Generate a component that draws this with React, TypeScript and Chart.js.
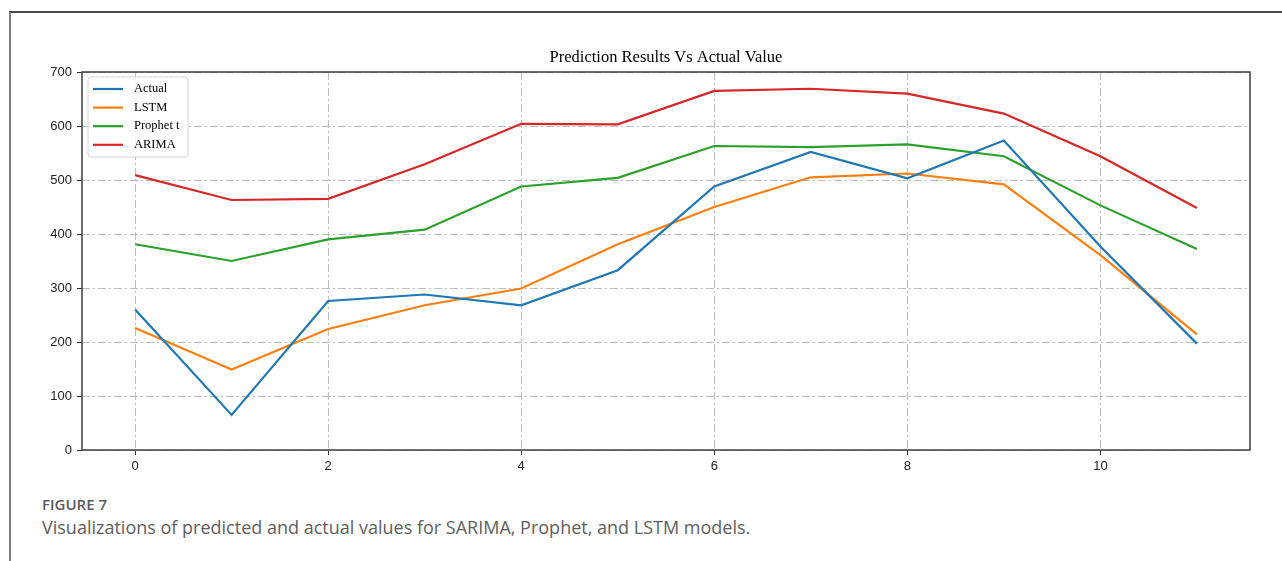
import React, { useEffect, useRef } from "react";
import { Chart, registerables } from "chart.js";

Chart.register(...registerables);

const TITLE = "Prediction Results Vs Actual Value";
const X_VALUES = [0, 1, 2, 3, 4, 5, 6, 7, 8, 9, 10, 11];
const ACTUAL = [260, 65, 276, 288, 268, 333, 488, 552, 503, 573, 377, 197];
const LSTM = [226, 149, 224, 268, 299, 381, 450, 505, 512, 492, 361, 214];
const PROPHET = [381, 350, 390, 408, 488, 504, 563, 561, 566, 544, 453, 372];
const ARIMA = [509, 463, 465, 529, 604, 603, 665, 669, 660, 623, 544, 448];
const SERIES_LABELS = ["Actual", "LSTM", "Prophet t", "ARIMA"];
const SERIES_COLORS = ["#1f77b4", "#ff7f0e", "#2ca02c", "#d62728"];
const X_TICKS = [0, 2, 4, 6, 8, 10];
const Y_TICKS = [0, 100, 200, 300, 400, 500, 600, 700];
const X_MIN = -0.55;
const X_MAX = 11.55;
const Y_MIN = 0;
const Y_MAX = 700;
const CAPTION_HEAD = "FIGURE 7";
const CAPTION_TEXT =
  "Visualizations of predicted and actual values for SARIMA, Prophet, and LSTM models.";

const toPoints = (ys: number[]) => ys.map((y, i) => ({ x: X_VALUES[i], y }));

const framePlugin = {
  id: "frameTitleLegend",
  afterDatasetsDraw(chart: any) {
    const { ctx, chartArea } = chart;
    const { left, right, top, bottom } = chartArea;
    ctx.save();
    // spines
    ctx.strokeStyle = "#3d3d3d";
    ctx.lineWidth = 1.5;
    ctx.setLineDash([]);
    ctx.strokeRect(left, top, right - left, bottom - top);
    // title
    ctx.fillStyle = "#000";
    ctx.font = "16.5px 'Liberation Serif', serif";
    ctx.textAlign = "center";
    ctx.textBaseline = "middle";
    ctx.fillText(TITLE, (left + right) / 2, 57.5);
    // legend
    const bx = left + 6;
    const by = top + 5;
    const bw = 100;
    const bh = 80;
    ctx.beginPath();
    const r = 3;
    ctx.moveTo(bx + r, by);
    ctx.lineTo(bx + bw - r, by);
    ctx.quadraticCurveTo(bx + bw, by, bx + bw, by + r);
    ctx.lineTo(bx + bw, by + bh - r);
    ctx.quadraticCurveTo(bx + bw, by + bh, bx + bw - r, by + bh);
    ctx.lineTo(bx + r, by + bh);
    ctx.quadraticCurveTo(bx, by + bh, bx, by + bh - r);
    ctx.lineTo(bx, by + r);
    ctx.quadraticCurveTo(bx, by, bx + r, by);
    ctx.closePath();
    ctx.fillStyle = "rgba(255,255,255,0.85)";
    ctx.fill();
    ctx.strokeStyle = "#d4d4d4";
    ctx.lineWidth = 1;
    ctx.stroke();
    chart.data.datasets.forEach((ds: any, i: number) => {
      const y = by + 12 + i * 18.6;
      ctx.strokeStyle = ds.borderColor;
      ctx.lineWidth = 2.2;
      ctx.beginPath();
      ctx.moveTo(bx + 5, y);
      ctx.lineTo(bx + 35, y);
      ctx.stroke();
      ctx.fillStyle = "#000";
      ctx.font = "12.5px 'Liberation Serif', serif";
      ctx.textAlign = "left";
      ctx.textBaseline = "middle";
      ctx.fillText(ds.label, bx + 46, y);
    });
    ctx.restore();
  },
};

export default function App() {
  const canvasRef = useRef<HTMLCanvasElement | null>(null);

  useEffect(() => {
    if (!canvasRef.current) return;
    const seriesValues = [ACTUAL, LSTM, PROPHET, ARIMA];
    const tickFont = { family: "'Liberation Sans', Arial, sans-serif", size: 13 };
    const chart = new Chart(canvasRef.current, {
      type: "line",
      data: {
        datasets: seriesValues.map((vals, i) => ({
          label: SERIES_LABELS[i],
          data: toPoints(vals),
          borderColor: SERIES_COLORS[i],
          backgroundColor: SERIES_COLORS[i],
          borderWidth: 2.2,
          pointRadius: 0,
          tension: 0,
          fill: false,
        })),
      },
      options: {
        responsive: false,
        animation: false,
        events: [],
        layout: { padding: { left: 0, right: 32, top: 72, bottom: 0 } },
        plugins: {
          legend: { display: false },
          title: { display: false },
          tooltip: { enabled: false },
        },
        scales: {
          x: {
            type: "linear",
            min: X_MIN,
            max: X_MAX,
            afterBuildTicks: (s: any) => {
              s.ticks = X_TICKS.map((v) => ({ value: v }));
            },
            afterFit: (s: any) => {
              s.height = 30;
            },
            grid: {
              color: "#bdbdbd",
              lineWidth: 1,
              tickLength: 5,
              tickColor: "#333",
              tickWidth: 1,
            },
            border: { display: false, dash: [8, 3, 2, 3] },
            ticks: {
              autoSkip: false,
              maxRotation: 0,
              padding: 4,
              color: "#222",
              font: tickFont,
            },
          },
          y: {
            type: "linear",
            min: Y_MIN,
            max: Y_MAX,
            afterBuildTicks: (s: any) => {
              s.ticks = Y_TICKS.map((v) => ({ value: v }));
            },
            afterFit: (s: any) => {
              s.width = 82;
            },
            grid: {
              color: "#bdbdbd",
              lineWidth: 1,
              tickLength: 5,
              tickColor: "#333",
              tickWidth: 1,
            },
            border: { display: false, dash: [8, 3, 2, 3] },
            ticks: {
              padding: 5,
              color: "#222",
              font: tickFont,
            },
          },
        },
      },
      plugins: [framePlugin],
    } as any);
    return () => chart.destroy();
  }, []);

  return (
    <div
      style={{
        position: "fixed",
        left: 0,
        top: 0,
        width: 1282,
        height: 561,
        background: "#fff",
        overflow: "hidden",
      }}
    >
      <div
        style={{
          position: "absolute",
          left: 9,
          top: 11,
          right: 0,
          bottom: 0,
          borderTop: "2px solid #4a4a4a",
          borderLeft: "2px solid #7d7d7d",
        }}
      />
      <canvas
        ref={canvasRef}
        width={1282}
        height={480}
        style={{ position: "absolute", left: 0, top: 0, width: 1282, height: 480 }}
      />
      <div
        style={{
          position: "absolute",
          left: 42,
          top: 495,
          fontFamily: "'Open Sans', sans-serif",
          fontWeight: 600,
          fontSize: 15,
          color: "#5a5a5a",
          whiteSpace: "nowrap",
          lineHeight: "18px",
        }}
      >
        {CAPTION_HEAD}
      </div>
      <div
        style={{
          position: "absolute",
          left: 42,
          top: 515,
          fontFamily: "'Open Sans', sans-serif",
          fontWeight: 400,
          fontSize: 18,
          color: "#5e5e5e",
          whiteSpace: "nowrap",
          lineHeight: "25px",
        }}
      >
        {CAPTION_TEXT}
      </div>
    </div>
  );
}
